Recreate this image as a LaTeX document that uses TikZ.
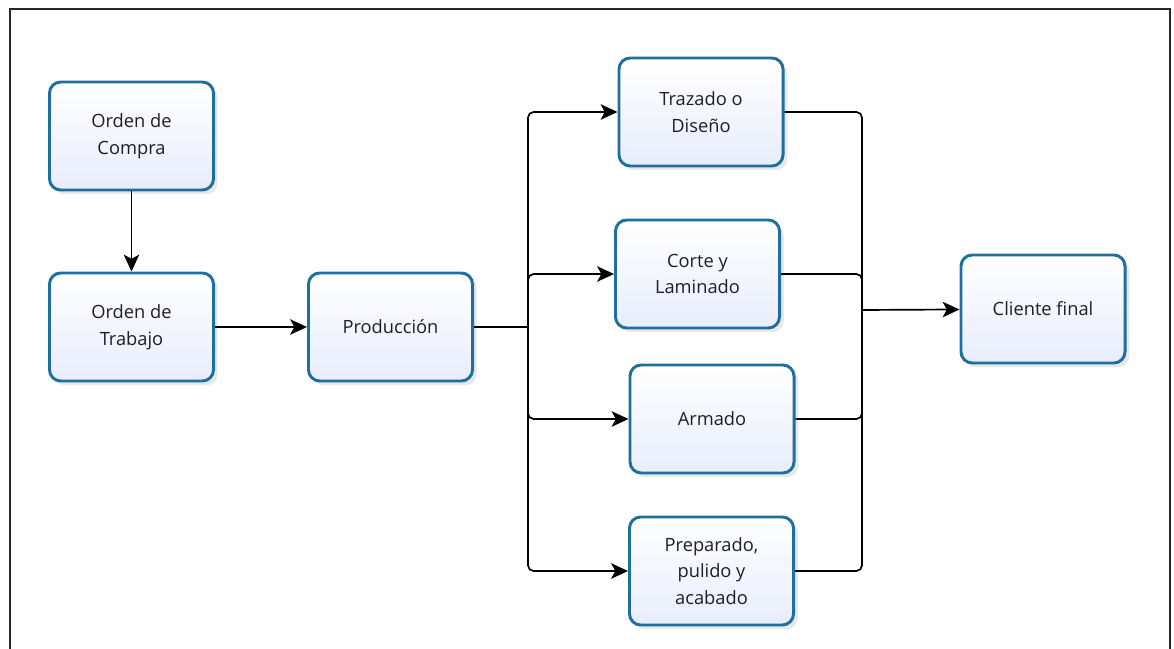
\documentclass[tikz,border=0pt]{standalone}
\usepackage{fontspec}
\setmainfont{Open Sans}
\usepackage{tikz}
\usetikzlibrary{arrows.meta}
\usetikzlibrary{shadows}
\definecolor{borde}{RGB}{31,111,158}
\definecolor{relleno}{RGB}{232,237,252}
\definecolor{texto}{RGB}{30,30,40}

\begin{document}
\begin{tikzpicture}[x=0.025cm,y=-0.025cm,
    caja/.style={draw=borde,line width=2.1pt,rounded corners=8pt,top color=white,bottom color=relleno,
      minimum width=4.1cm,minimum height=2.7cm,align=center,text=texto,
      font=\fontsize{13}{19}\selectfont,
      drop shadow={opacity=0.18,shadow xshift=3pt,shadow yshift=-3pt}},
    flecha/.style={line width=1.2pt,-{Stealth[length=12pt,width=11pt,inset=3pt]}},
    linea/.style={line width=1.2pt,rounded corners=4pt}]
      \useasboundingbox (0,0) rectangle (1174,649);
      \draw[line width=1.2pt,black!85] (10,649) -- (10,9) -- (1170,9) -- (1170,649);

      \node[caja] (compra) at (131.5,136) {Orden de\\Compra};
      \node[caja] (trabajo) at (131.5,327) {Orden de\\Trabajo};
      \node[caja] (produccion) at (390.5,327) {Producción};
      \node[caja] (trazado) at (701,112) {Trazado o\\Diseño};
      \node[caja] (corte) at (697.5,274) {Corte y\\Laminado};
      \node[caja] (armado) at (712,419) {Armado};
      \node[caja] (preparado) at (711.5,571) {Preparado,\\pulido y\\acabado};
      \node[caja] (cliente) at (1043,309) {Cliente final};

      \coordinate (division) at (528,327);
      \coordinate (union) at (862,310);

      \draw[flecha] (compra) -- (trabajo);
      \draw[flecha] (trabajo) -- (produccion);
      \draw[linea] (produccion) -- (division);
      \draw[linea,flecha] (division) |- (trazado);
      \draw[linea,flecha] (division) |- (corte);
      \draw[linea,flecha] (division) |- (armado);
      \draw[linea,flecha] (division) |- (preparado);
      \draw[linea] (trazado) -| (union);
      \draw[linea] (corte) -| (union);
      \draw[linea] (armado) -| (union);
      \draw[linea] (preparado) -| (union);
      \draw[flecha] (union) -- (cliente);
    \end{tikzpicture}
\end{document}
